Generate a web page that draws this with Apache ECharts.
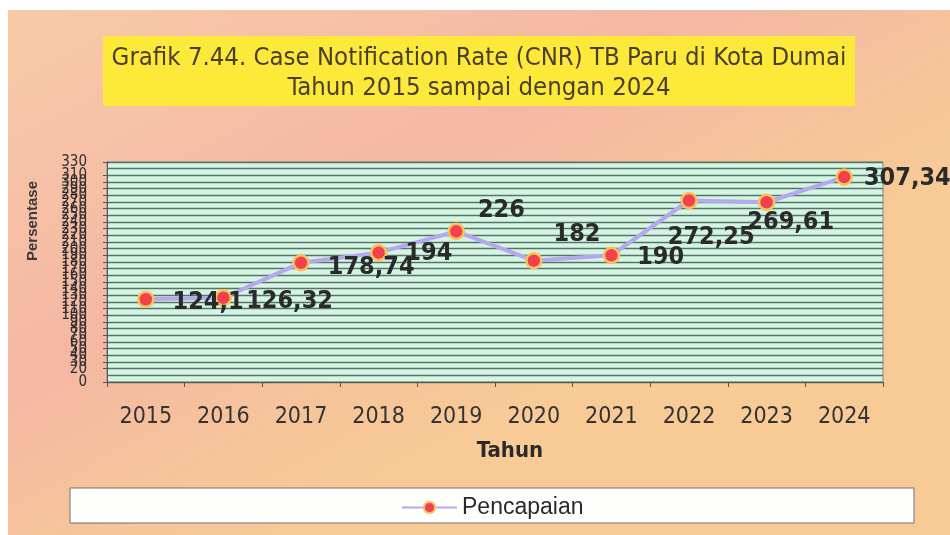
<!DOCTYPE html>
<html>
<head>
<meta charset="utf-8">
<script src="https://cdn.jsdelivr.net/npm/echarts@6/dist/echarts.min.js"></script>
<style>
html,body{margin:0;padding:0;background:#ffffff;}
#c{position:absolute;left:8px;top:10px;width:942px;height:525px;}
</style>
</head>
<body>
<div id="c"></div>
<script>
const categories = ['2015','2016','2017','2018','2019','2020','2021','2022','2023','2024'];
const pencapaian = [124.1, 126.32, 178.74, 194, 226, 182, 190, 272.25, 269.61, 307.34];
const seriesName = 'Pencapaian';
const titleLines = ['Grafik 7.44. Case Notification Rate (CNR) TB Paru di Kota Dumai', 'Tahun 2015 sampai dengan 2024'];
const yAxisName = 'Persentase';
const xAxisName = 'Tahun';
const yMin = 0, yMax = 330, yStep = 10;

// label placement (layout only)
const labelOffsets = [[18,3],[14,4],[18,5],[18,1],[13,-21],[11,-26],[17,2],[-30,37],[-28,20],[11,1]];

const COND = "'DejaVu Sans Condensed','DejaVu Sans',sans-serif";
const fmt = v => String(v).replace('.', ',');
const titleStyle = {fontFamily:COND,fontSize:25.5,fontWeight:'normal',color:'#4a3f2e',lineHeight:31};

const chart = echarts.init(document.getElementById('c'), null, {renderer:'canvas'});
chart.setOption({
  animation:false,
  backgroundColor:{type:'linear',x:0,y:0,x2:0.3,y2:1,colorStops:[
    {offset:0,color:'#f7caa6'},{offset:0.3,color:'#f6c0a6'},{offset:0.55,color:'#f4b7a4'},
    {offset:0.8,color:'#f6c39a'},{offset:1,color:'#f7ca96'}]},
  graphic:[
    {type:'rect',z:-1,shape:{x:95,y:26,width:752,height:70},style:{fill:'#fde93a'}},
    {type:'rect',z:-1,shape:{x:62,y:478,width:844,height:35},style:{fill:'#fefefc',stroke:'#707070',lineWidth:1}},
    {type:'text',x:25,y:211,rotation:Math.PI/2,style:{text:yAxisName,fill:'#3a3a3a',font:"bold 15px 'Liberation Sans',Arial,sans-serif",align:'center',verticalAlign:'middle'}}
  ],
  title:[
    {text:titleLines[0], left:'center', top:33, padding:0, textStyle:titleStyle},
    {text:titleLines[1], left:'center', top:63, padding:0, textStyle:titleStyle}
  ],
  legend:{
    data:[seriesName], left:388, top:481,
    itemWidth:55, itemHeight:14, itemGap:10,
    textStyle:{fontFamily:"'Liberation Sans',Arial,sans-serif",fontSize:23,color:'#2a2a2a'}
  },
  grid:{left:99,right:67,top:152,height:220,show:true,backgroundColor:'#d4f4e4',borderColor:'#7e8e86',borderWidth:1,containLabel:false},
  xAxis:{
    type:'category', data:categories, boundaryGap:true,
    name:xAxisName, nameLocation:'middle', nameGap:58,
    nameTextStyle:{fontFamily:COND,fontSize:22,fontWeight:'bold',color:'#2a2a2a',padding:[0,0,0,30]},
    axisLine:{lineStyle:{color:'#555',width:1}},
    axisTick:{show:true,length:5,lineStyle:{color:'#555'}},
    axisLabel:{margin:24,fontFamily:COND,fontSize:23,color:'#333'}
  },
  yAxis:{
    type:'value', min:yMin, max:yMax, interval:yStep,
    axisLine:{show:true,lineStyle:{color:'#555',width:1}},
    axisTick:{show:true,length:4,lineStyle:{color:'#555'}},
    axisLabel:{margin:20,fontFamily:COND,fontSize:15,color:'#2e2e2e',showMinLabel:true,showMaxLabel:true,hideOverlap:false},
    splitLine:{show:true,lineStyle:{color:'#587466',width:1.3}}
  },
  series:[{
    name:seriesName, type:'line', data:pencapaian.map((v,i)=>({
      value:v,
      label:{offset:labelOffsets[i]}
    })),
    lineStyle:{color:'#b6a8ee',width:4},
    symbol:'circle', symbolSize:15,
    itemStyle:{color:'#f2404e',borderColor:'#f6c25a',borderWidth:2.5},
    label:{show:true,position:'right',distance:0,formatter:p=>fmt(p.value),
      fontFamily:COND,fontSize:25,fontWeight:'bold',color:'#2a2a2a'},
    z:3
  }]
});
</script>
</body>
</html>
